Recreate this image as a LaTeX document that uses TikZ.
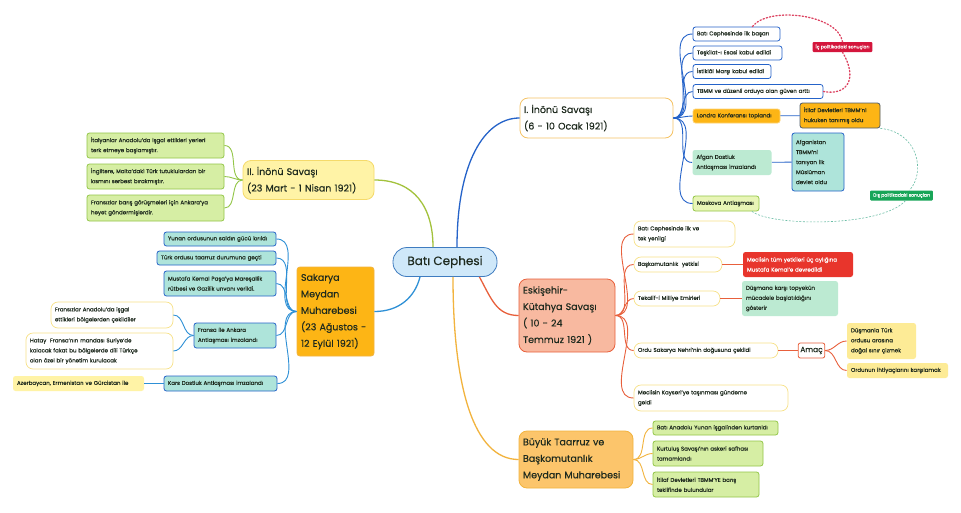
\documentclass[tikz,border=0pt]{standalone}
\usepackage{fontspec}
\setmainfont{Poppins}[FakeBold=0.35]
\usepackage{tikz}
\usetikzlibrary{arrows.meta, backgrounds}
\definecolor{rootfill}{HTML}{CFE8F9}
\definecolor{rootline}{HTML}{3F7CC0}
\definecolor{inkblue}{HTML}{2563C9}
\definecolor{skyblue}{HTML}{2E90D6}
\definecolor{redline}{HTML}{E8603C}
\definecolor{goldline}{HTML}{F2B33D}
\definecolor{leafline}{HTML}{A3C23C}
\definecolor{orangefill}{HTML}{FDB515}
\definecolor{salmonfill}{HTML}{F8B9A0}
\definecolor{peachfill}{HTML}{FCC56B}
\definecolor{lemonfill}{HTML}{FFF3A6}
\definecolor{lemonline}{HTML}{F5DA6A}
\definecolor{mintfill}{HTML}{BCEAD2}
\definecolor{tealfill}{HTML}{AEE4DA}
\definecolor{limefill}{HTML}{D6EEA4}
\definecolor{limeline}{HTML}{93C648}
\definecolor{palelime}{HTML}{E8F5B6}
\definecolor{creamfill}{HTML}{FDEB96}
\definecolor{crimson}{HTML}{D4163C}
\definecolor{redfill}{HTML}{E8352C}
\definecolor{greenlabel}{HTML}{18A558}
\definecolor{inktext}{HTML}{1E2A1E}
\definecolor{slateline}{HTML}{4D5B6B}

\begin{document}
\begin{tikzpicture}[
    x=1pt, y=-1pt,
    every node/.style={text=inktext, inner xsep=4pt, inner ysep=1pt, align=left},
    dims/.style 2 args={text width=#1pt, minimum height=#2pt},
    small/.style={font=\fontsize{5.5}{10}\selectfont},
    topic/.style={font=\fontsize{9.5}{16.5}\selectfont, rounded corners=8pt, line width=0.8pt},
    leaf/.style={small, rounded corners=2.5pt, line width=0.8pt},
    bubble/.style={small, rounded corners=7pt, line width=0.7pt, draw=lemonline!80, fill=white},
    tag/.style={font=\fontsize{4.6}{5}\selectfont, text=white, rounded corners=1pt, inner xsep=3pt, minimum height=10pt},
    link/.style={line width=0.9pt},
    mainlink/.style={line width=1.3pt}
]
\useasboundingbox (0,0) rectangle (961,512);
\fill[white] (0,0) rectangle (961,512);

% ================================================================
% MERKEZ
% ================================================================
\node[font=\fontsize{12}{14}\selectfont, draw=rootline, fill=rootfill, line width=0.8pt,
      rounded corners=14pt, minimum width=104pt, minimum height=29pt, align=center] (root)
    at (445, 262) {Batı Cephesi};

% ================================================================
% SAĞ ÜST: I. İnönü Savaşı
% ================================================================
\node[topic, draw=goldline!80, fill=white, dims={145}{40}] (ino1) at (596.5, 118)
    {I. İnönü Savaşı\\(6 - 10 Ocak 1921)};

\node[leaf, draw=inkblue, fill=white, dims={79}{14}] (ilkbasari) at (736.5, 34) {Batı Cephesinde ilk başarı};
\node[leaf, draw=inkblue, fill=white, dims={81}{14}] (teskilat)  at (737.5, 53) {Teşkilat-ı Esasi kabul edildi};
\node[leaf, draw=inkblue, fill=white, dims={70}{14}] (istiklal)  at (732, 71.5) {İstiklâl Marşı kabul edildi};
\node[leaf, draw=inkblue, fill=white, dims={122}{14}] (guven)    at (758, 91.5) {TBMM ve düzenli orduya olan güven arttı};
\node[leaf, draw=orangefill!60, fill=orangefill, dims={79}{14}] (londra) at (736.5, 116) {Londra Konferansı toplandı};
\node[leaf, draw=slateline, fill=orangefill, dims={72}{25}] (itilaf) at (840, 115.5) {İtilaf Devletleri TBMM'ni\\hukuken tanımış oldu};
\node[leaf, fill=mintfill, dims={71}{25}] (afgan) at (732, 162.5) {Afgan Dostluk\\Antlaşması imzalandı};
\node[leaf, draw=inkblue, fill=tealfill, dims={44}{58}] (afganistan) at (818, 162)
    {Afganistan\\TBMM'ni\\tanıyan ilk\\Müslüman\\devlet oldu};
\node[leaf, draw=limeline, fill=palelime, dims={58}{15}] (moskova) at (726, 203.5) {Moskova Antlaşması};

\foreach \c in {ilkbasari, teskilat, istiklal, guven, londra, afgan, moskova}
    \draw[link, inkblue] (ino1.east) to[out=0, in=180] (\c.west);
\draw[link, inkblue] (londra) -- (itilaf);
\draw[link, inkblue] (afgan) -- (afganistan);

% iç / dış politika sonuçları
\node[tag, fill=crimson] (icpol) at (842.5, 47) {İç politikadaki sonuçları};
\node[tag, fill=greenlabel] (dispol) at (901.5, 195.5) {Dış politikadaki sonuçları};

\draw[crimson!80, line width=1.3pt, dotted, line cap=round]
    ([xshift=-28pt]ilkbasari.north east) .. controls (768,6) and (838,14) .. (icpol.north)
    (icpol.south) .. controls (858,78) and (848,96) .. (guven.east);
\draw[greenlabel!50!teal!60, line width=0.6pt, dash pattern=on 2pt off 1.5pt]
    (itilaf.south east) .. controls (918,132) and (926,172) .. ([xshift=8pt]dispol.north)
    ([xshift=4pt]dispol.south) .. controls (880,228) and (770,226) .. ([xshift=26pt]moskova.south);

% ================================================================
% SAĞ ORTA: Eskişehir-Kütahya Savaşı
% ================================================================
\node[topic, draw=redline, fill=salmonfill, dims={88}{73}] (eskisehir) at (567, 315.5)
    {Eskişehir-\\Kütahya Savaşı\\( 10 - 24\\Temmuz 1921 )};

\node[bubble, dims={93}{26}] (yenilgi)  at (684.5, 234) {Batı Cephesinde ilk ve\\tek yenilgi};
\node[bubble, dims={80}{15}] (baskom)   at (678, 264.5) {Başkomutanlık\ \ yetkisi};
\node[bubble, dims={78}{15}] (tekalif)  at (677, 298.5) {Tekalif-i Milliye Emirleri};
\node[bubble, dims={136}{15}] (sakaryacek) at (706, 350.5) {Ordu Sakarya Nehri'nin doğusuna çekildi};
\node[bubble, dims={146}{26}] (kayseri) at (711, 398) {Meclisin Kayseri'ye taşınması gündeme\\geldi};

\node[leaf, fill=redfill, text=white, dims={102}{25}] (yetki) at (798, 264.5)
    {Meclisin tüm yetkileri üç aylığına\\Mustafa Kemal'e devredildi};
\node[leaf, fill=mintfill, dims={88}{35}] (topyekun) at (790, 298.5)
    {Düşmana karşı topyekün\\mücadele başlatıldığını\\gösterir};
\node[font=\fontsize{7.5}{8}\selectfont, draw=redline, fill=white, rounded corners=2pt,
      line width=0.8pt, inner xsep=2pt, minimum height=15pt] (amac) at (811.5, 350.5) {Amaç};
\node[leaf, fill=creamfill, dims={61}{36}] (sinir) at (881.5, 341)
    {Düşmanla Türk\\ordusu arasına\\doğal sınır çizmek};
\node[leaf, fill=creamfill, dims={93}{15}] (ihtiyac) at (897.5, 370.5) {Ordunun ihtiyaçlarını karşılamak};

\foreach \c in {yenilgi, baskom, tekalif, sakaryacek, kayseri}
    \draw[link, redline] (eskisehir.east) to[out=0, in=180] (\c.west);
\draw[link, redline] (baskom) -- (yetki);
\draw[link, redline] (tekalif) -- (topyekun);
\draw[link, redline] (sakaryacek) -- (amac);
\foreach \c in {sinir, ihtiyac}
    \draw[link, redline] (amac.east) to[out=0, in=180] (\c.west);

% ================================================================
% SAĞ ALT: Büyük Taarruz
% ================================================================
\node[topic, draw=goldline, fill=peachfill, dims={106}{57}] (taarruz) at (576, 459.5)
    {Büyük Taarruz ve\\Başkomutanlık\\Meydan Muharebesi};

\node[leaf, draw=limeline, fill=limefill, dims={117}{14}] (kurtarildi) at (715.5, 428) {Batı Anadolu Yunan işgalinden kurtarıldı};
\node[leaf, draw=limeline, fill=limefill, dims={102}{25}] (safha) at (708, 453.5) {Kurtuluş Savaşı'nın askeri safhası\\tamamlandı};
\node[leaf, draw=limeline, fill=limefill, dims={98}{25}] (baris) at (706, 484.5) {İtilaf Devletleri TBMM'YE barış\\teklifinde bulundular};

\foreach \c in {kurtarildi, safha, baris}
    \draw[link, goldline] (taarruz.east) to[out=0, in=180] (\c.west);

% ================================================================
% SOL ÜST: II. İnönü Savaşı
% ================================================================
\node[topic, draw=lemonline, fill=lemonfill, dims={123}{39}] (ino2) at (308.5, 180)
    {II. İnönü Savaşı\\(23 Mart - 1 Nisan 1921)};

\node[leaf, draw=limeline, fill=limefill, dims={129}{25}] (italyan) at (155.5, 145.5)
    {İtalyanlar Anadolu'da işgal ettikleri yerleri\\terk etmeye başlamıştır.};
\node[leaf, draw=limeline, fill=limefill, dims={129}{25}] (ingiltere) at (155.5, 176.5)
    {İngiltere, Malta'daki Türk tutuklulardan bir\\kısmını serbest bırakmıştır.};
\node[leaf, draw=limeline, fill=limefill, dims={129}{26}] (fransiz) at (155.5, 208)
    {Fransızlar barış görüşmeleri için Ankara'ya\\heyet göndermişlerdir.};

\foreach \c in {italyan, ingiltere, fransiz}
    \draw[link, limeline] (ino2.west) to[out=180, in=0] (\c.east);

% ================================================================
% SOL ALT: Sakarya Meydan Muharebesi
% ================================================================
\node[topic, draw=goldline, fill=orangefill, rounded corners=3pt, dims={69}{89}] (sakarya) at (335.5, 311.5)
    {Sakarya\\Meydan\\Muharebesi\\(23 Ağustos -\\12 Eylül 1921)};

\node[leaf, draw=inkblue, fill=tealfill, dims={104}{14}] (saldiri) at (220, 239) {Yunan ordusunun saldırı gücü kırıldı};
\node[leaf, draw=inkblue, fill=tealfill, dims={111}{14}] (taarruzgec) at (216.5, 258) {Türk ordusu taarruz durumuna geçti};
\node[leaf, draw=inkblue, fill=tealfill, dims={104}{25}] (maresal) at (220, 283.5)
    {Mustafa Kemal Paşa'ya Mareşallik\\rütbesi ve Gazilik unvanı verildi.};
\node[leaf, draw=inkblue, fill=tealfill, dims={74}{25}] (ankara) at (235, 335.5)
    {Fransa ile Ankara\\Antlaşması imzalandı};
\node[leaf, draw=inkblue, fill=tealfill, dims={105}{15}] (kars) at (220.5, 383.5) {Kars Dostluk Antlaşması imzalandı};

\node[bubble, dims={114}{26}] (cekildi) at (112, 315)
    {Fransızlar Anadolu'da işgal\\ettikleri bölgelerden çekildiler};
\node[bubble, dims={139}{36}] (hatay) at (99.5, 351)
    {Hatay\ \ Fransa'nın mandası Suriye'de\\kalacak fakat bu bölgelerde dili Türkçe\\olan özel bir yönetim kurulacak};
\node[leaf, fill=lemonfill, dims={123}{15}] (kafkas) at (78.5, 383.5) {Azerbaycan, Ermenistan ve Gürcistan ile};

\foreach \c in {saldiri, taarruzgec, maresal, ankara, kars}
    \draw[link, skyblue] (sakarya.west) to[out=180, in=0] (\c.east);
\foreach \c in {cekildi, hatay}
    \draw[link, skyblue] (ankara.west) to[out=180, in=0] (\c.east);
\draw[link, skyblue] (kars) -- (kafkas);

% ================================================================
% MERKEZDEN DALLAR
% ================================================================
\draw[mainlink, inkblue] ([xshift=12pt]root.north) .. controls +(0,-85) and +(-35,0) .. (ino1.west);
\draw[mainlink, redline] ([xshift=-18pt]root.south east) .. controls +(12,22) and +(-22,0) .. (eskisehir.west);
\draw[mainlink, goldline] ([xshift=8pt]root.south) .. controls +(0,110) and +(-45,0) .. (taarruz.west);
\draw[mainlink, leafline] ([xshift=-12pt]root.north) .. controls +(0,-40) and +(40,0) .. (ino2.east);
\draw[mainlink, skyblue] ([xshift=-25pt]root.south) .. controls +(-5,20) and +(25,0) .. (sakarya.east);

\end{tikzpicture}
\end{document}
